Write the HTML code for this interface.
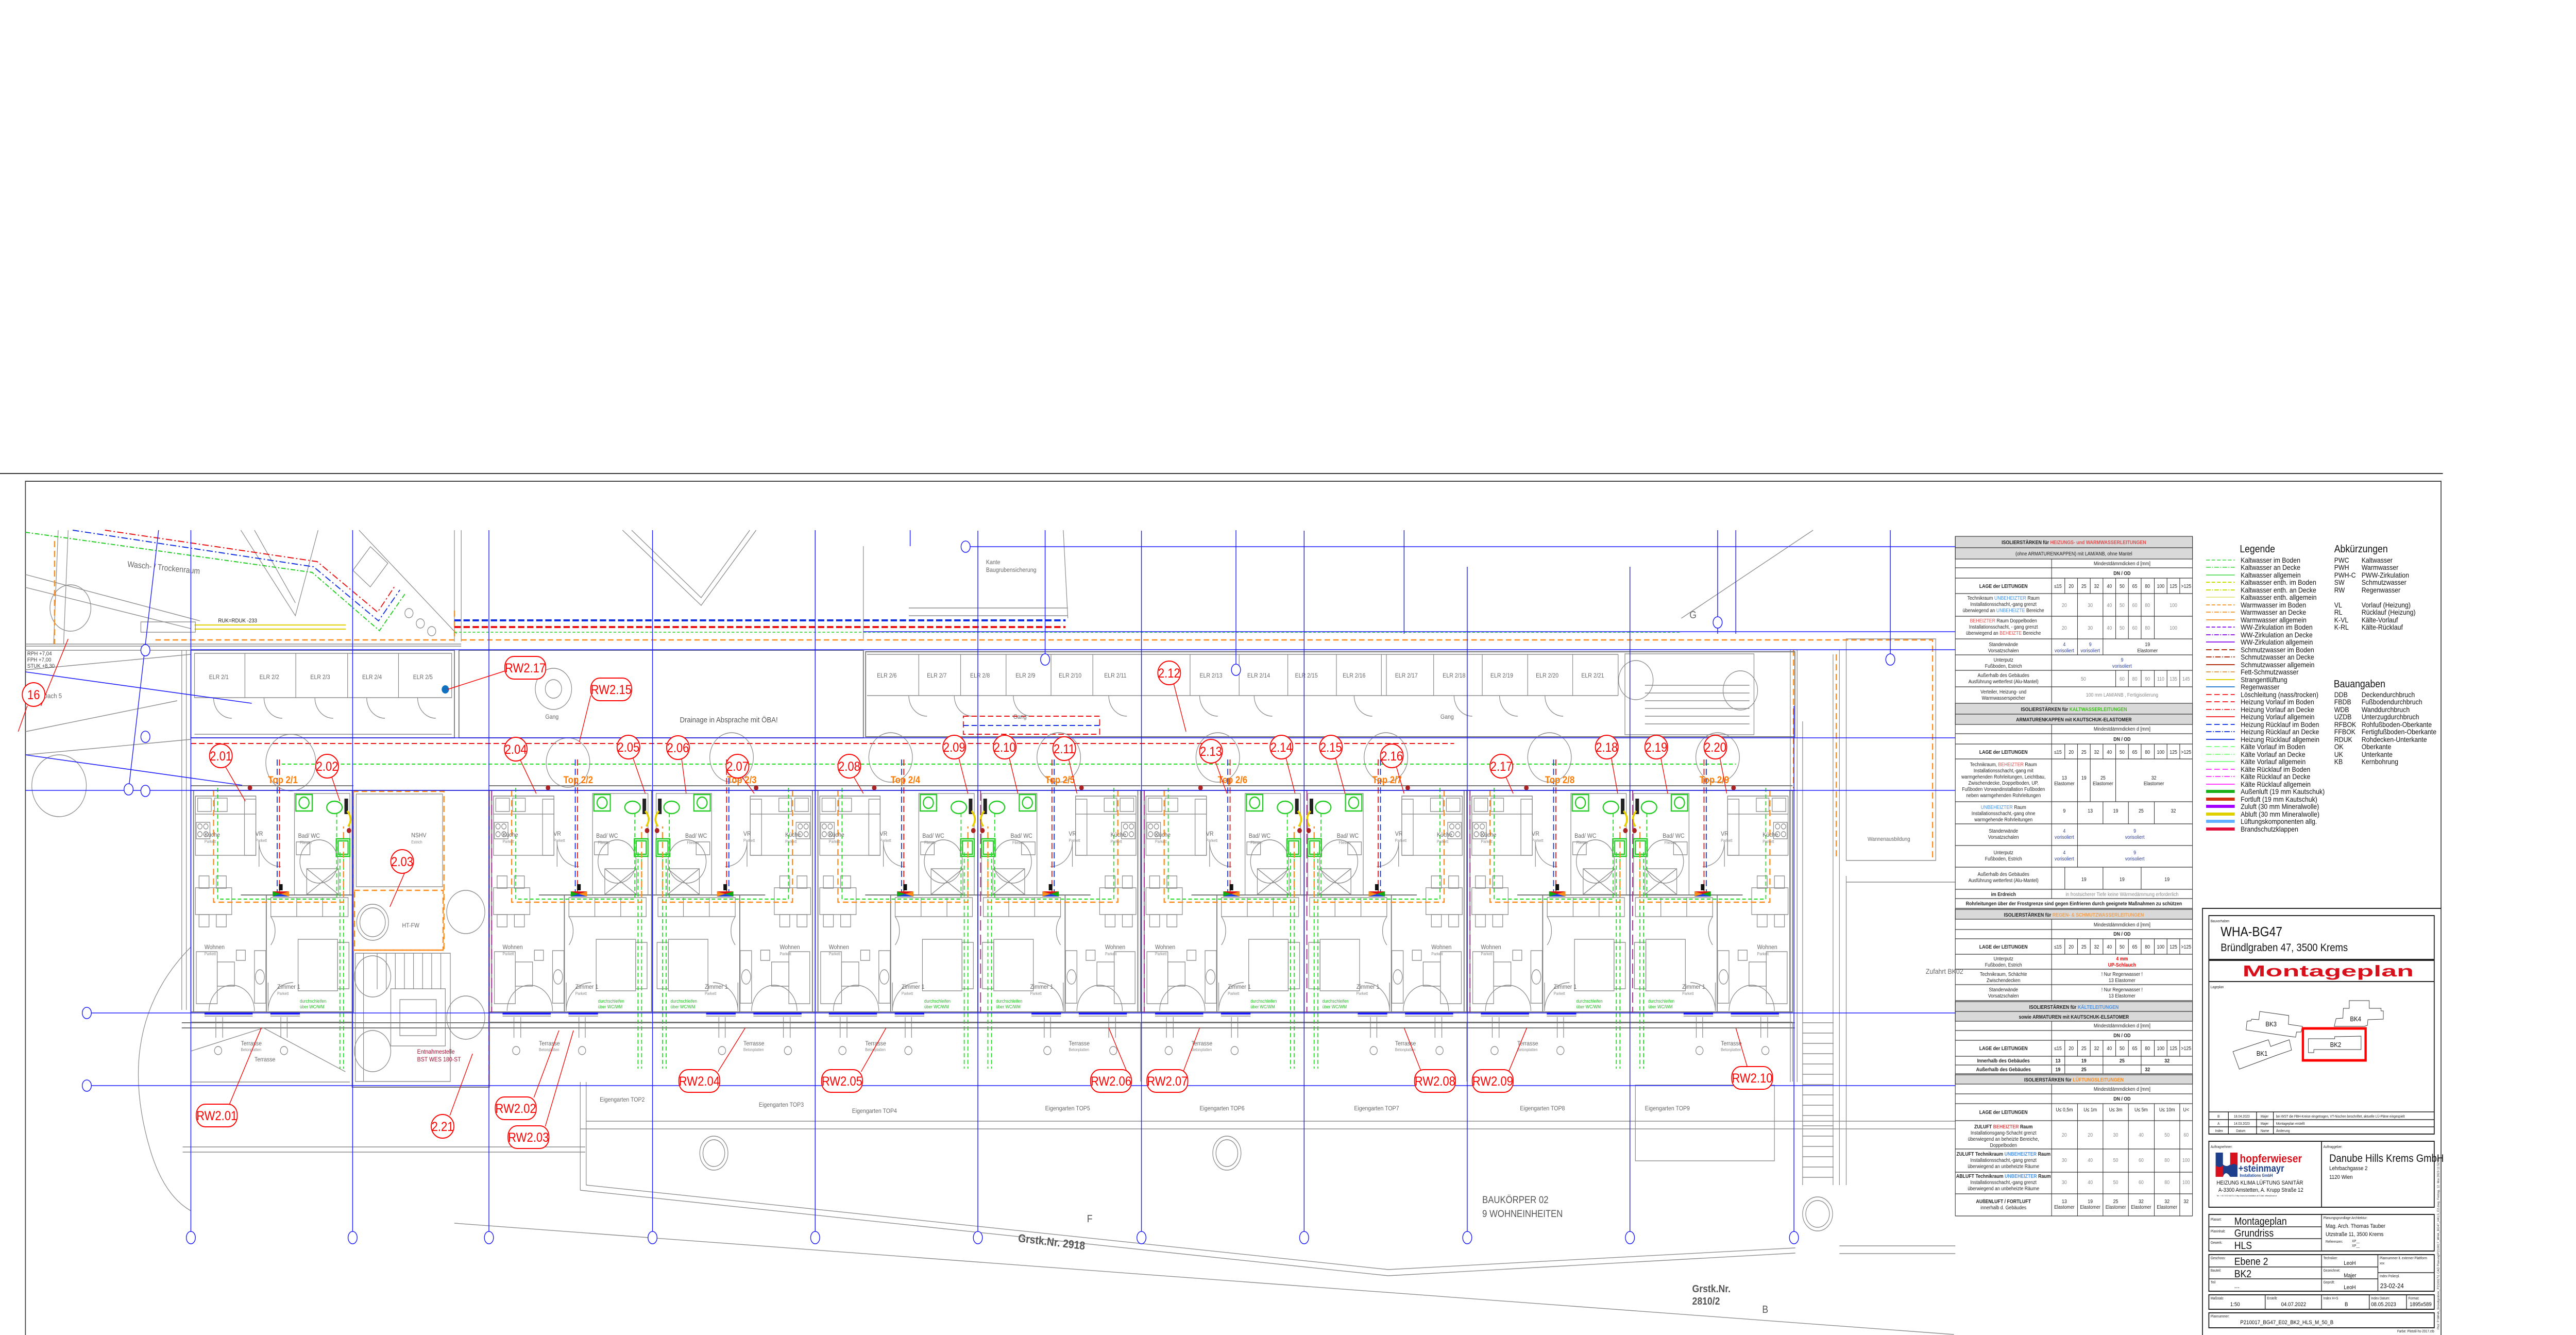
<!DOCTYPE html>
<html><head><meta charset="utf-8"><style>
html,body{margin:0;padding:0;background:#fff;width:100%;height:100%;overflow:hidden}
svg{display:block;width:100vw;height:100vh}
text{font-family:"Liberation Sans",Arial,sans-serif}
.g{stroke:#8c8c8c;stroke-width:1.4;fill:none}
.w{stroke:#777;stroke-width:2;fill:none}
.gd{stroke:#22dd22;stroke-dasharray:8 5;stroke-width:2;fill:none}
.od{stroke:#ff8c1a;stroke-dasharray:12 7;stroke-width:2.6;fill:none}
.rd{stroke:#e81010;stroke-dasharray:12 6;stroke-width:2;fill:none}
.bd{stroke:#1030e0;stroke-dasharray:12 6;stroke-width:2;fill:none}
.bl{stroke:#1a1aff;stroke-width:1.6;fill:none}
.gr{stroke:#22cc22;stroke-width:2.5;fill:none}
.rb{stroke:#f00;stroke-width:2;fill:#fff}
.rl{stroke:#f00;stroke-width:1.5;fill:none}
.rt{fill:#f00;font-size:25px;text-anchor:middle}
.ut{fill:#666;font-size:12px}
.us{fill:#888;font-size:8px}
.gt{fill:#22bb22;font-size:9px}
.tp{fill:#ff7a00;font-size:19px;font-weight:bold}
.tt{font-size:10px;fill:#222;text-anchor:middle}
.tb{font-size:10px;fill:#222;text-anchor:middle;font-weight:bold}
.tn{font-size:10px;fill:#888;text-anchor:middle}
.tv{font-size:10px;fill:#2d3d9a;text-anchor:middle}
.lg{font-size:14px;fill:#111}
.sm{font-size:7px;fill:#222}
</style></head><body>
<svg viewBox="0 0 5669 2591" preserveAspectRatio="none" xmlns="http://www.w3.org/2000/svg" overflow="hidden">
<defs>
<g id="uR">
<rect class="w" x="0" y="0" width="358" height="430"/>
<line class="w" x1="0" y1="-9" x2="358" y2="-9"/>
<line class="w" x1="6" y1="0" x2="6" y2="430"/>
<rect class="g" x="10" y="11" width="133" height="115"/>
<rect class="g" x="10" y="11" width="133" height="35"/>
<rect class="g" x="15" y="15" width="30" height="26"/>
<rect class="g" x="52" y="15" width="28" height="26"/>
<rect class="g" x="12" y="62" width="30" height="32"/>
<circle class="g" cx="20" cy="70" r="5"/><circle class="g" cx="33" cy="70" r="5"/><circle class="g" cx="20" cy="85" r="5"/><circle class="g" cx="33" cy="85" r="5"/>
<rect class="g" x="118" y="17" width="25" height="109"/>
<rect class="g" x="10" y="189" width="80" height="52"/>
<rect class="g" x="18" y="166" width="22" height="24"/><rect class="g" x="56" y="166" width="22" height="24"/>
<rect class="g" x="18" y="241" width="22" height="24"/><rect class="g" x="56" y="241" width="22" height="24"/>
<path class="g" d="M150 100 A48 48 0 0 0 198 148 M150 100 V148"/>
<rect class="g" x="228" y="6" width="122" height="197"/>
<rect class="gr" x="231" y="8" width="36" height="32"/><circle class="gr" cx="249" cy="24" r="11"/>
<ellipse class="gr" cx="316" cy="33" rx="17" ry="12"/><rect x="338" y="16" width="8" height="30" fill="#222"/>
<path d="M344 40 Q358 55 346 70" stroke="#e8d000" stroke-width="4" fill="none"/>
<circle cx="348" cy="78" r="5" fill="#a22"/>
<rect class="gr" x="320" y="94" width="30" height="34"/><rect class="gr" x="324" y="98" width="22" height="26"/>
<circle class="g" cx="282" cy="138" r="42"/>
<rect class="g" x="255" y="152" width="70" height="50"/><path class="g" d="M255 152 L325 202 M325 152 L255 202"/>
<rect class="g" x="232" y="100" width="30" height="25"/>
<line class="w" x1="110" y1="203" x2="358" y2="203"/>
<line class="w" x1="166" y1="203" x2="166" y2="430"/>
<rect class="g" x="176" y="208" width="170" height="37"/><path class="g" d="M233 208 V245 M290 208 V245"/>
<rect class="g" x="236" y="289" width="87" height="100"/><rect class="g" x="323" y="295" width="25" height="90"/>
<rect class="g" x="140" y="311" width="25" height="102"/><ellipse class="g" cx="152" cy="362" rx="10" ry="14"/>
<rect class="g" x="12" y="313" width="46" height="101"/><rect class="g" x="58" y="333" width="38" height="47"/>
<rect class="g" x="100" y="310" width="20" height="20"/>
<path class="g" d="M40 428 A50 50 0 0 1 90 378 M140 428 A50 50 0 0 0 90 378 M170 428 A55 55 0 0 1 225 373 M170 428 V373"/>
<path class="g" d="M176 245 A45 45 0 0 1 176 300"/>
<line class="w" x1="0" y1="450" x2="358" y2="450"/>
<line stroke="#1a1aff" stroke-width="4" x1="30" y1="433" x2="136" y2="433"/>
<line stroke="#1a1aff" stroke-width="4" x1="175" y1="433" x2="240" y2="433"/>
<path class="g" d="M30 438 H136 M175 438 H240"/>
<path class="gd" d="M59 -5 V211 H321 V40"/>
<path class="gd" d="M328 120 V540 M336 120 V540"/>
<path class="od" d="M50 0 V217 H336 V70"/>
<path class="rd" d="M195 -60 V196"/><path class="bd" d="M190 -60 V196"/>
<rect x="180" y="196" width="36" height="10" fill="#11aa11"/><polygon points="180,196 216,196 198,201" fill="#e01010"/><polygon points="216,196 216,206 198,201" fill="#ff8c1a"/><polygon points="180,206 216,206 198,201" fill="#2040e0"/>
<rect x="194" y="182" width="8" height="12" fill="#111"/>
<circle cx="130" cy="-5" r="5" fill="#a22"/>
<line class="g" x1="0" y1="450" x2="0" y2="565"/>
<circle class="g" cx="60" cy="505" r="8"/><circle class="g" cx="205" cy="505" r="8"/>
<path class="g" d="M55 440 V480 M70 440 V480 M198 440 V480 M212 440 V480"/>
</g>
<g id="tR">
<text class="ut" x="30" y="90">Küche</text><text class="us" x="30" y="102">Parkett</text>
<text class="ut" x="236" y="92">Bad/ WC</text><text class="us" x="240" y="104">Fliesen</text>
<text class="ut" x="142" y="88">VR</text><text class="us" x="142" y="100">Parkett</text>
<text class="ut" x="30" y="308">Wohnen</text><text class="us" x="30" y="320">Parkett</text>
<text class="ut" x="190" y="385">Zimmer 1</text><text class="us" x="190" y="397">Parkett</text>
<text class="gt" x="240" y="412">durchschleifen</text><text class="gt" x="240" y="423">über WC/WM</text>
<text class="ut" x="110" y="495">Terrasse</text><text class="us" x="110" y="506">Betonplatten</text>
</g>
<g id="tL">
<text class="ut" x="292" y="90">Küche</text><text class="us" x="292" y="102">Parkett</text>
<text class="ut" x="72" y="92">Bad/ WC</text><text class="us" x="76" y="104">Fliesen</text>
<text class="ut" x="200" y="88">VR</text><text class="us" x="200" y="100">Parkett</text>
<text class="ut" x="280" y="308">Wohnen</text><text class="us" x="280" y="320">Parkett</text>
<text class="ut" x="115" y="385">Zimmer 1</text><text class="us" x="115" y="397">Parkett</text>
<text class="gt" x="40" y="412">durchschleifen</text><text class="gt" x="40" y="423">über WC/WM</text>
<text class="ut" x="200" y="495">Terrasse</text><text class="us" x="200" y="506">Betonplatten</text>
</g>
</defs>

<line x1="0" y1="919" x2="5376" y2="919" stroke="#333" stroke-width="2"/>
<path d="M56 2591 V934 H5372 V2591" stroke="#444" stroke-width="2" fill="none"/>

<path class="g" d="M56 1115 L440 1205 M56 1140 L420 1220 M56 1250 H1015 M56 1254 H1015 M56 1262 H420"/>
<path class="g" d="M150 1029 L140 1250 M128 1029 L118 1250"/>
<circle class="g" cx="155" cy="1180" r="45"/>
<path class="g" d="M56 1300 L420 1270 M56 1465 L420 1435 M56 1420 L390 1360"/>
<circle class="g" cx="130" cy="1525" r="60"/>
<path class="g" d="M400 1262 V1960 M410 1262 V1960"/>
<path class="g" d="M1000 1029 V1245 M1015 1029 V1245 M790 1029 L1005 1230"/>
<path class="g" d="M530 1029 L650 1195 L700 1029 M560 1029 L650 1170"/>
<rect class="g" x="790" y="1070" width="50" height="60" transform="rotate(40 815 1100)"/>
<circle class="g" cx="900" cy="1190" r="9"/><circle class="g" cx="925" cy="1210" r="9"/><circle class="g" cx="950" cy="1225" r="9"/>
<path d="M428 1213 H761 M428 1221 H761" stroke="#e0d000" stroke-width="2"/>
<rect class="g" x="310" y="1207" width="120" height="20"/>
<text x="480" y="1208" font-size="11" fill="#222">RUK=RDUK -233</text>
<text x="280" y="1100" font-size="16" fill="#666" transform="rotate(5 280 1100)">Wasch- / Trockenraum</text>
<text x="95" y="1355" font-size="13" fill="#666">Dach 5</text>
<text x="60" y="1272" font-size="11" fill="#444">RPH +7,04</text><text x="60" y="1284" font-size="11" fill="#444">FPH +7,00</text><text x="60" y="1296" font-size="11" fill="#444">STUK +8,30</text>
<polyline points="231,1029 698,1090 831,1188 870,1136" stroke="#e81010" stroke-width="2" stroke-dasharray="14 5 3 5" fill="none"/>
<polyline points="160,1029 690,1100 833,1205 880,1145" stroke="#1030e0" stroke-width="2" stroke-dasharray="14 5 3 5" fill="none"/>
<polyline points="56,1033 687,1111 835,1224 891,1153" stroke="#22cc22" stroke-width="2" stroke-dasharray="10 4 3 4" fill="none"/>
<path class="od" d="M120 1050 V1250 M342 1242 H1000 V1180"/>
<path d="M1000 1204 H2345" stroke="#1030e0" stroke-width="4" stroke-dasharray="14 6"/>
<path d="M1000 1217 H2345" stroke="#e81010" stroke-width="4" stroke-dasharray="14 6"/>
<path d="M1000 1227 H3700" stroke="#22cc22" stroke-width="1.5" stroke-dasharray="6 4"/>
<path class="od" d="M1015 1242 H4253 V1668 M3947 1261 V1530 M4041 1270 V1668"/>
<path class="g" d="M1370 1029 L1543 1175 L1664 1029 M1390 1029 L1543 1160 L1650 1029"/>
<path class="g" d="M1900 1060 V1240 M2000 1180 H2350 M2000 1195 H2350 M2340 1029 L2350 1200"/>
<text x="2170" y="1095" font-size="12" fill="#666">Kante</text><text x="2170" y="1110" font-size="12" fill="#666">Baugrubensicherung</text>
<text x="3718" y="1200" font-size="20" fill="#666">G</text>
<path class="g" d="M3700 1200 L3990 1029 M4063 1240 H4260 V1670 H4063 Z M4063 1712 H4303 M3940 1261 V2100 M3955 1261 V2100 M3967 1400 V2300 M4034 1270 V2300 M4048 1261 V2300 M4063 1700 V2300"/>
<text x="4110" y="1632" font-size="11" fill="#666">Wannenausbildung</text>
<text x="4238" y="1890" font-size="14" fill="#666">Zufahrt BK02</text>
<path class="g" d="M3967 1985 H4035 M3967 2005 H4035 M3967 2025 H4035 M3967 2045 H4035 M3967 2065 H4035 M3967 2085 H4035 M3967 2105 H4035 M3967 2125 H4035 M3967 2145 H4035 M3967 2165 H4035 M3967 2185 H4035 M3967 2205 H4035 M3967 2225 H4035 M3967 2245 H4035 M3967 2265 H4035 M3967 2285 H4035"/>
<circle class="g" cx="4000" cy="2356" r="33"/><circle class="g" cx="4000" cy="2356" r="26"/>
<path class="g" d="M4048 2418 H4303 M4048 2433 H4303"/>

<rect class="w" x="420" y="1262" width="580" height="170"/>
<path class="g" d="M428 1268 H994 V1354 H428 Z M539 1268 V1354 M651 1268 V1354 M765 1268 V1354 M877 1268 V1354 M428 1425 H994"/>
<text class="ut" x="460" y="1318">ELR 2/1</text><text class="ut" x="571" y="1318">ELR 2/2</text><text class="ut" x="683" y="1318">ELR 2/3</text><text class="ut" x="797" y="1318">ELR 2/4</text><text class="ut" x="909" y="1318">ELR 2/5</text>
<path class="g" d="M470 1354 A40 40 0 0 0 510 1394 M581 1354 A40 40 0 0 0 621 1394 M693 1354 A40 40 0 0 0 733 1394 M807 1354 A40 40 0 0 0 847 1394 M919 1354 A40 40 0 0 0 959 1394"/>
<rect class="w" x="1010" y="1262" width="890" height="170"/>
<circle class="g" cx="1218" cy="1337" r="40"/><circle class="g" cx="1218" cy="1337" r="18"/>
<text x="1496" y="1402" font-size="15" fill="#555">Drainage in Absprache mit ÖBA!</text>
<rect class="w" x="1905" y="1265" width="2045" height="165"/>
<path class="g" d="M1908 1270 H3561 M1908 1350 H3561 M2022 1270 V1350 M2114 1270 V1350 M2214 1270 V1350 M2313 1270 V1350 M2405 1270 V1350 M2512 1270 V1350 M2619 1270 V1350 M2727 1270 V1350 M2834 1270 V1350 M2941 1270 V1350 M3040 1270 V1350 M3051 1270 V1350 M3155 1270 V1350 M3262 1270 V1350 M3362 1270 V1350 M3461 1270 V1350 M3561 1270 V1350"/>
<text class="ut" x="1930" y="1315">ELR 2/6</text><text class="ut" x="2040" y="1315">ELR 2/7</text><text class="ut" x="2135" y="1315">ELR 2/8</text><text class="ut" x="2235" y="1315">ELR 2/9</text><text class="ut" x="2330" y="1315">ELR 2/10</text><text class="ut" x="2430" y="1315">ELR 2/11</text><text class="ut" x="2640" y="1315">ELR 2/13</text><text class="ut" x="2745" y="1315">ELR 2/14</text><text class="ut" x="2850" y="1315">ELR 2/15</text><text class="ut" x="2955" y="1315">ELR 2/16</text><text class="ut" x="3070" y="1315">ELR 2/17</text><text class="ut" x="3175" y="1315">ELR 2/18</text><text class="ut" x="3280" y="1315">ELR 2/19</text><text class="ut" x="3380" y="1315">ELR 2/20</text><text class="ut" x="3480" y="1315">ELR 2/21</text>
<path class="g" d="M2000 1350 A40 40 0 0 0 2040 1390 M2100 1350 A40 40 0 0 0 2140 1390 M2230 1350 A40 40 0 0 0 2270 1390 M2440 1350 A40 40 0 0 0 2480 1390 M2640 1350 A40 40 0 0 0 2680 1390 M2760 1350 A40 40 0 0 0 2800 1390 M2980 1350 A40 40 0 0 0 3020 1390 M3200 1350 A40 40 0 0 0 3240 1390 M3300 1350 A40 40 0 0 0 3340 1390 M3400 1350 A40 40 0 0 0 3440 1390"/>
<rect class="g" x="3576" y="1269" width="284" height="157"/>
<path class="g" d="M3620 1330 H3850 M3620 1345 H3850 M3620 1360 H3850 M3620 1375 H3850 M3620 1390 H3850 M3620 1405 H3850"/>
<circle class="g" cx="3600" cy="1320" r="38"/><circle class="g" cx="3830" cy="1340" r="38"/>
<rect class="rd" x="2120" y="1390" width="300" height="35"/>
<path class="bd" d="M2120 1408 H2420"/>
<text class="ut" x="1200" y="1395">Gang</text><text class="ut" x="2230" y="1395">Gang</text><text class="ut" x="3170" y="1395">Gang</text>

<path class="rd" d="M420 1443 H3200"/>
<path class="gd" d="M620 1483 H3820"/>
<path d="M420 1534 H3950" stroke="#e81010" stroke-width="2" stroke-dasharray="30 20" fill="none"/>

<circle class="g" cx="640" cy="1480" r="55"/><circle class="g" cx="1250" cy="1480" r="48"/><circle class="g" cx="1610" cy="1470" r="48"/><circle class="g" cx="1960" cy="1470" r="48"/><circle class="g" cx="2330" cy="1470" r="48"/><circle class="g" cx="2680" cy="1470" r="48"/><circle class="g" cx="3050" cy="1470" r="48"/><circle class="g" cx="3410" cy="1470" r="48"/><circle class="g" cx="3780" cy="1470" r="48"/>

<use href="#uR" transform="translate(420,1534)"/>
<use href="#uR" transform="translate(1076,1534)"/>
<use href="#uR" transform="translate(1794,1534)"/>
<use href="#uR" transform="translate(2512,1534)"/>
<use href="#uR" transform="translate(3229,1534)"/>
<use href="#uR" transform="translate(1794,1534) scale(-1,1)"/>
<use href="#uR" transform="translate(2510,1534) scale(-1,1)"/>
<use href="#uR" transform="translate(3228,1534) scale(-1,1)"/>
<use href="#uR" transform="translate(3945,1534) scale(-1,1)"/>
<use href="#tR" transform="translate(420,1534)"/>
<use href="#tR" transform="translate(1076,1534)"/>
<use href="#tL" transform="translate(1436,1534)"/>
<use href="#tR" transform="translate(1794,1534)"/>
<use href="#tL" transform="translate(2152,1534)"/>
<use href="#tR" transform="translate(2512,1534)"/>
<use href="#tL" transform="translate(2870,1534)"/>
<use href="#tR" transform="translate(3229,1534)"/>
<use href="#tL" transform="translate(3587,1534)"/>
<text class="tp" x="590" y="1520">Top 2/1</text><text class="tp" x="1240" y="1520">Top 2/2</text><text class="tp" x="1600" y="1520">Top 2/3</text><text class="tp" x="1960" y="1520">Top 2/4</text><text class="tp" x="2300" y="1520">Top 2/5</text><text class="tp" x="2680" y="1520">Top 2/6</text><text class="tp" x="3020" y="1520">Top 2/7</text><text class="tp" x="3400" y="1520">Top 2/8</text><text class="tp" x="3740" y="1520">Top 2/9</text>
<path stroke="#a0208a" stroke-width="2" stroke-dasharray="20 8" d="M1082 1534 V1965 M2158 1534 V1965 M2518 1534 V1965 M2876 1534 V1965 M3235 1534 V1965 M3593 1534 V1965"/>

<rect class="w" x="775" y="1534" width="302" height="576"/>
<rect class="g" x="784" y="1541" width="190" height="180"/>
<text class="ut" x="905" y="1625">NSHV</text><text class="us" x="905" y="1637">Estrich</text>
<rect class="od" x="777" y="1536" width="200" height="308"/>
<rect class="od" x="780" y="1728" width="195" height="116"/>
<circle class="g" cx="820" cy="1790" r="35"/><circle class="g" cx="820" cy="1790" r="28"/>
<text class="ut" x="885" y="1800">HT-FW</text>
<path class="g" d="M782 1850 H991 V2099 H782 Z M800 1850 V2099 M830 1850 V1920 M850 1850 V1920 M870 1850 V1920 M890 1850 V1920 M910 1850 V1920 M930 1850 V1920 M950 1850 V1920 M970 1850 V1920"/>
<rect class="g" x="860" y="1919" width="120" height="111"/><rect class="g" x="880" y="1940" width="80" height="70"/>
<circle class="g" cx="820" cy="1895" r="40"/><circle class="g" cx="1025" cy="1770" r="42"/><circle class="g" cx="1025" cy="1975" r="42"/><circle class="g" cx="820" cy="2040" r="40"/>
<text x="918" y="2045" font-size="12" fill="#a01030">Entnahmestelle</text><text x="918" y="2060" font-size="12" fill="#a01030">BST WES 180-ST</text>
<path class="od" d="M1076 1534 V2110"/>

<path class="w" d="M400 1985 H3950 M400 1995 H3950"/>
<path class="g" d="M420 2040 L580 1995 L760 2080 M420 2100 H770"/>
<text class="ut" x="560" y="2060">Terrasse</text>
<path class="g" d="M402 2226 H1288 M402 2236 H1288 M1290 2176 H4303 M1277 2191 H4303 M1290 2100 V2300 M1277 2100 V2310"/>
<path class="g" d="M1290 2300 L3055 2464 L3951 2422 M1277 2310 L3055 2476 L3951 2432 M1000 2374 L4300 2590"/>
<path class="g" d="M420 1838 Q250 1990 330 2230 Q360 2320 420 2350"/>
<rect class="g" x="3599" y="2106" width="306" height="147"/>
<ellipse class="g" cx="1571" cy="2238" rx="31" ry="33"/><ellipse class="g" cx="1571" cy="2238" rx="24" ry="26"/>
<ellipse class="g" cx="2700" cy="2238" rx="31" ry="33"/><ellipse class="g" cx="2700" cy="2238" rx="24" ry="26"/>
<text class="ut" x="1320" y="2138">Eigengarten TOP2</text><text class="ut" x="1670" y="2148">Eigengarten TOP3</text><text class="ut" x="1875" y="2160">Eigengarten TOP4</text><text class="ut" x="2300" y="2155">Eigengarten TOP5</text><text class="ut" x="2640" y="2155">Eigengarten TOP6</text><text class="ut" x="2980" y="2155">Eigengarten TOP7</text><text class="ut" x="3345" y="2155">Eigengarten TOP8</text><text class="ut" x="3620" y="2155">Eigengarten TOP9</text>
<text x="3262" y="2335" font-size="19" fill="#555">BAUKÖRPER 02</text><text x="3262" y="2362" font-size="19" fill="#555">9 WOHNEINHEITEN</text>
<text x="2240" y="2410" font-size="22" fill="#555" font-weight="bold" transform="rotate(6 2240 2410)">Grstk.Nr. 2918</text>
<text x="2392" y="2372" font-size="20" fill="#555">F</text>
<text x="3724" y="2508" font-size="20" fill="#555" font-weight="bold">Grstk.Nr.</text><text x="3724" y="2532" font-size="20" fill="#555" font-weight="bold">2810/2</text>
<text x="3878" y="2548" font-size="20" fill="#555">B</text>

<g class="bl">
<path d="M2125 1061 H4303 M420 1261 H4303 M1900 1226 H4303 M420 1432 H4303 M56 1534 H4303 M191 1966 H4303 M191 2107 H4303"/>
<path d="M56 1304 L554 1365 M56 1465 L533 1524 M349 1029 L283 1532"/>
<path d="M420 1029 V2390 M776 1029 V2390 M1076 1029 V2390 M1436 1029 V2390 M1794 1029 V2390 M2152 1030 V2390 M2512 1030 V2390 M2870 1030 V2390 M3229 1100 V2390 M3587 1100 V2390 M3948 1370 V2390 M2003 1029 V1060 M2300 1029 V1280 M2720 1029 V1300 M3090 1029 V1230 M3780 1029 V1230 M3820 1029 V1230 M4160 1029 V1280"/>
<g fill="#fff"><ellipse cx="420" cy="2402" rx="10" ry="12"/><ellipse cx="776" cy="2402" rx="10" ry="12"/><ellipse cx="1076" cy="2402" rx="10" ry="12"/><ellipse cx="1436" cy="2402" rx="10" ry="12"/><ellipse cx="1794" cy="2402" rx="10" ry="12"/><ellipse cx="2152" cy="2402" rx="10" ry="12"/><ellipse cx="2512" cy="2402" rx="10" ry="12"/><ellipse cx="2870" cy="2402" rx="10" ry="12"/><ellipse cx="3229" cy="2402" rx="10" ry="12"/><ellipse cx="3587" cy="2402" rx="10" ry="12"/><ellipse cx="3948" cy="2402" rx="10" ry="12"/><ellipse cx="191" cy="1966" rx="10" ry="11"/><ellipse cx="191" cy="2107" rx="10" ry="11"/><ellipse cx="2125" cy="1061" rx="10" ry="11"/><ellipse cx="283" cy="1532" rx="10" ry="11"/><ellipse cx="320" cy="1535" rx="10" ry="11"/><ellipse cx="320" cy="1262" rx="10" ry="11"/><ellipse cx="320" cy="1430" rx="10" ry="11"/><ellipse cx="2300" cy="1280" rx="10" ry="11"/><ellipse cx="2720" cy="1300" rx="10" ry="11"/><ellipse cx="3780" cy="1208" rx="10" ry="11"/><ellipse cx="4160" cy="1280" rx="10" ry="11"/></g>
</g>
<circle cx="980" cy="1338" r="8" fill="#1070c0"/>

<g>
<path class="rl" d="M1112 1302 L985 1338 M1300 1350 L1275 1440 M496 1488 L540 1555 M730 1508 L748 1555 M890 1695 L858 1760 M1145 1475 L1180 1540 M1393 1471 L1420 1540 M1500 1472 L1510 1540 M1633 1508 L1660 1540 M1879 1508 L1900 1540 M2110 1471 L2130 1540 M2221 1471 L2240 1540 M2352 1474 L2370 1540 M2583 1327 L2610 1420 M2675 1479 L2700 1540 M2830 1471 L2850 1540 M2939 1471 L2960 1540 M3073 1488 L3090 1540 M3314 1508 L3330 1540 M3546 1471 L3560 1540 M3655 1471 L3670 1540 M3785 1471 L3800 1540 M505 2143 L575 1995 M1175 2130 L1230 2000 M1200 2186 L1262 2000 M990 2165 L1040 2045 M1580 2080 L1640 1995 M1895 2080 L1950 1995 M2480 2080 L2440 1995 M2604 2080 L2640 1995 M3130 2085 L3090 1995 M3320 2080 L3360 1995 M3845 2070 L3820 1995 M90 1370 L150 1240 M60 1370 L40 1420"/>
<rect class="rb" x="1111" y="1274" width="90" height="44" rx="20"/><text class="rt" x="1156" y="1305">RW2.17</text>
<rect class="rb" x="1300" y="1316" width="90" height="44" rx="20"/><text class="rt" x="1345" y="1347">RW2.15</text>
<rect class="rb" x="432" y="2143" width="90" height="44" rx="20"/><text class="rt" x="477" y="2174">RW2.01</text>
<rect class="rb" x="1090" y="2129" width="90" height="44" rx="20"/><text class="rt" x="1135" y="2160">RW2.02</text>
<rect class="rb" x="1118" y="2185" width="90" height="44" rx="20"/><text class="rt" x="1163" y="2216">RW2.03</text>
<rect class="rb" x="1494" y="2076" width="90" height="44" rx="20"/><text class="rt" x="1539" y="2107">RW2.04</text>
<rect class="rb" x="1808" y="2076" width="90" height="44" rx="20"/><text class="rt" x="1853" y="2107">RW2.05</text>
<rect class="rb" x="2400" y="2076" width="90" height="44" rx="20"/><text class="rt" x="2445" y="2107">RW2.06</text>
<rect class="rb" x="2524" y="2076" width="90" height="44" rx="20"/><text class="rt" x="2569" y="2107">RW2.07</text>
<rect class="rb" x="3113" y="2076" width="90" height="44" rx="20"/><text class="rt" x="3158" y="2107">RW2.08</text>
<rect class="rb" x="3240" y="2076" width="90" height="44" rx="20"/><text class="rt" x="3285" y="2107">RW2.09</text>
<rect class="rb" x="3811" y="2070" width="90" height="44" rx="20"/><text class="rt" x="3856" y="2101">RW2.10</text>
<g class="rb"><ellipse cx="486" cy="1467" rx="25" ry="23"/><ellipse cx="720" cy="1487" rx="25" ry="23"/><ellipse cx="885" cy="1672" rx="25" ry="23"/><ellipse cx="1135" cy="1454" rx="25" ry="23"/><ellipse cx="1383" cy="1450" rx="25" ry="23"/><ellipse cx="1492" cy="1451" rx="25" ry="23"/><ellipse cx="1623" cy="1487" rx="25" ry="23"/><ellipse cx="1869" cy="1487" rx="25" ry="23"/><ellipse cx="2100" cy="1450" rx="25" ry="23"/><ellipse cx="2211" cy="1450" rx="25" ry="23"/><ellipse cx="2342" cy="1453" rx="25" ry="23"/><ellipse cx="2573" cy="1306" rx="25" ry="23"/><ellipse cx="2665" cy="1458" rx="25" ry="23"/><ellipse cx="2820" cy="1450" rx="25" ry="23"/><ellipse cx="2929" cy="1450" rx="25" ry="23"/><ellipse cx="3063" cy="1467" rx="25" ry="23"/><ellipse cx="3304" cy="1487" rx="25" ry="23"/><ellipse cx="3536" cy="1450" rx="25" ry="23"/><ellipse cx="3645" cy="1450" rx="25" ry="23"/><ellipse cx="3775" cy="1450" rx="25" ry="23"/><ellipse cx="974" cy="2186" rx="25" ry="23"/><ellipse cx="74" cy="1348" rx="25" ry="23"/></g>
<text class="rt" x="486" y="1476">2.01</text><text class="rt" x="720" y="1496">2.02</text><text class="rt" x="885" y="1681">2.03</text><text class="rt" x="1135" y="1463">2.04</text><text class="rt" x="1383" y="1459">2.05</text><text class="rt" x="1492" y="1460">2.06</text><text class="rt" x="1623" y="1496">2.07</text><text class="rt" x="1869" y="1496">2.08</text><text class="rt" x="2100" y="1459">2.09</text><text class="rt" x="2211" y="1459">2.10</text><text class="rt" x="2342" y="1462">2.11</text><text class="rt" x="2573" y="1315">2.12</text><text class="rt" x="2665" y="1467">2.13</text><text class="rt" x="2820" y="1459">2.14</text><text class="rt" x="2929" y="1459">2.15</text><text class="rt" x="3063" y="1476">2.16</text><text class="rt" x="3304" y="1496">2.17</text><text class="rt" x="3536" y="1459">2.18</text><text class="rt" x="3645" y="1459">2.19</text><text class="rt" x="3775" y="1459">2.20</text><text class="rt" x="974" y="2195">2.21</text><text class="rt" x="74" y="1357">16</text>
</g>

<g stroke="#333" stroke-width="1.2" fill="none">
<rect x="4303" y="1041" width="522" height="44" fill="#d9d9d9"/><line x1="4303" y1="1063" x2="4825" y2="1063"/>
<rect x="4303" y="1365" width="522" height="41" fill="#d9d9d9"/><line x1="4303" y1="1386" x2="4825" y2="1386"/>
<rect x="4303" y="1765" width="522" height="19" fill="#d9d9d9"/>
<rect x="4303" y="1944" width="522" height="38" fill="#d9d9d9"/><line x1="4303" y1="1963" x2="4825" y2="1963"/>
<rect x="4303" y="2086" width="522" height="18" fill="#d9d9d9"/>
<path d="M4303 1102 H4825 M4303 1122 H4825 M4303 1152 H4825 M4303 1196 H4825 M4303 1240 H4825 M4303 1271 H4825 M4303 1301 H4825 M4303 1333 H4825
M4303 1424 H4825 M4303 1444 H4825 M4303 1473 H4825 M4303 1556 H4825 M4303 1599 H4825 M4303 1641 H4825 M4303 1683 H4825 M4303 1726 H4825 M4303 1744 H4825 M4303 1763 H4825
M4303 1804 H4825 M4303 1822 H4825 M4303 1852 H4825 M4303 1881 H4825 M4303 1911 H4825 M4303 1942 H4825
M4303 2000 H4825 M4303 2019 H4825 M4303 2050 H4825 M4303 2067 H4825 M4303 2084 H4825
M4303 2123 H4825 M4303 2142 H4825 M4303 2175 H4825 M4303 2230 H4825 M4303 2275 H4825 M4303 2317 H4825 M4303 2360 H4825
M4825 1041 V2360 M4303 1041 V2360
M4515 1085 V1365 M4515 1406 V1744 M4515 1784 V1942 M4515 1982 V2084 M4515 2104 V2360"/>
<path d="M4544 1122 V1152 M4572 1122 V1240 M4600 1122 V1152 M4628 1122 V1240 M4656 1122 V1240 M4684 1122 V1240 M4712 1122 V1240 M4741 1122 V1240 M4769 1122 V1152 M4797 1122 V1152
M4572 1240 V1271 M4628 1240 V1271 M4656 1301 V1333 M4684 1301 V1333 M4712 1301 V1333 M4741 1301 V1333 M4769 1301 V1333 M4797 1301 V1333
M4544 1444 V1473 M4572 1444 V1473 M4600 1444 V1473 M4628 1444 V1473 M4656 1444 V1473 M4684 1444 V1473 M4712 1444 V1473 M4741 1444 V1473 M4769 1444 V1473 M4797 1444 V1473
M4572 1473 V1556 M4600 1473 V1556 M4656 1473 V1556 M4572 1556 V1599 M4628 1556 V1599 M4684 1556 V1599 M4741 1556 V1599 M4572 1599 V1683 M4544 1683 V1726 M4628 1683 V1726 M4712 1683 V1726
M4544 1822 V1852 M4572 1822 V1852 M4600 1822 V1852 M4628 1822 V1852 M4656 1822 V1852 M4684 1822 V1852 M4712 1822 V1852 M4741 1822 V1852 M4769 1822 V1852 M4797 1822 V1852
M4544 2019 V2084 M4572 2019 V2050 M4600 2019 V2050 M4628 2019 V2084 M4656 2019 V2050 M4684 2019 V2050 M4712 2019 V2084 M4741 2019 V2050 M4769 2019 V2050 M4797 2019 V2050
M4572 2142 V2360 M4628 2142 V2360 M4684 2142 V2360 M4741 2142 V2360 M4797 2142 V2360"/>
</g>
<g>
<text class="tb" x="4564" y="1056">ISOLIERSTÄRKEN für <tspan fill="#e05050">HEIZUNGS- und WARMWASSERLEITUNGEN</tspan></text>
<text class="tt" x="4564" y="1078">(ohne ARMATURENKAPPEN) mit LAM/ANB, ohne Mantel</text>
<text class="tt" x="4670" y="1097">Mindestdämmdicken d [mm]</text>
<text class="tb" x="4670" y="1116">DN / OD</text>
<text class="tb" x="4409" y="1141">LAGE der LEITUNGEN</text>
<text class="tt" x="4529" y="1141">≤15</text><text class="tt" x="4558" y="1141">20</text><text class="tt" x="4586" y="1141">25</text><text class="tt" x="4614" y="1141">32</text><text class="tt" x="4642" y="1141">40</text><text class="tt" x="4670" y="1141">50</text><text class="tt" x="4698" y="1141">65</text><text class="tt" x="4726" y="1141">80</text><text class="tt" x="4755" y="1141">100</text><text class="tt" x="4783" y="1141">125</text><text class="tt" x="4811" y="1141">&gt;125</text>
<text class="tt" x="4409" y="1164">Technikraum <tspan fill="#4a90e2">UNBEHEIZTER</tspan> Raum</text><text class="tt" x="4409" y="1176">Installationsschacht,-gang grenzt</text><text class="tt" x="4409" y="1188">überwiegend an <tspan fill="#4a90e2">UNBEHEIZTE</tspan> Bereiche</text>
<text class="tn" x="4543" y="1178">20</text><text class="tn" x="4600" y="1178">30</text><text class="tn" x="4642" y="1178">40</text><text class="tn" x="4670" y="1178">50</text><text class="tn" x="4698" y="1178">60</text><text class="tn" x="4726" y="1178">80</text><text class="tn" x="4783" y="1178">100</text>
<text class="tt" x="4409" y="1208"><tspan fill="#e05050">BEHEIZTER</tspan> Raum Doppelboden</text><text class="tt" x="4409" y="1220">Installationsschacht, - gang grenzt</text><text class="tt" x="4409" y="1232">überwiegend an <tspan fill="#e05050">BEHEIZTE</tspan> Bereiche</text>
<text class="tn" x="4543" y="1222">20</text><text class="tn" x="4600" y="1222">30</text><text class="tn" x="4642" y="1222">40</text><text class="tn" x="4670" y="1222">50</text><text class="tn" x="4698" y="1222">60</text><text class="tn" x="4726" y="1222">80</text><text class="tn" x="4783" y="1222">100</text>
<text class="tt" x="4409" y="1254">Standerwände</text><text class="tt" x="4409" y="1266">Vorsatzschalen</text>
<text class="tv" x="4543" y="1254">4</text><text class="tv" x="4543" y="1266">vorisoliert</text><text class="tv" x="4600" y="1254">9</text><text class="tv" x="4600" y="1266">vorisoliert</text><text class="tt" x="4726" y="1254">19</text><text class="tt" x="4726" y="1266">Elastomer</text>
<text class="tt" x="4409" y="1284">Unterputz</text><text class="tt" x="4409" y="1296">Fußboden, Estrich</text><text class="tv" x="4670" y="1284">9</text><text class="tv" x="4670" y="1296">vorisoliert</text>
<text class="tt" x="4409" y="1314">Außerhalb des Gebäudes</text><text class="tt" x="4409" y="1326">Ausführung wetterfest (Alu-Mantel)</text>
<text class="tn" x="4585" y="1321">50</text><text class="tn" x="4670" y="1321">60</text><text class="tn" x="4698" y="1321">80</text><text class="tn" x="4726" y="1321">90</text><text class="tn" x="4755" y="1321">110</text><text class="tn" x="4783" y="1321">135</text><text class="tn" x="4811" y="1321">145</text>
<text class="tt" x="4409" y="1346">Verteiler, Heizung- und</text><text class="tt" x="4409" y="1358">Warmwasserspeicher</text><text class="tn" x="4670" y="1352">100 mm LAM/ANB , Fertigisolierung</text>
<text class="tb" x="4564" y="1380">ISOLIERSTÄRKEN für <tspan fill="#44bb22">KALTWASSERLEITUNGEN</tspan></text>
<text class="tb" x="4564" y="1400">ARMATURENKAPPEN mit KAUTSCHUK-ELASTOMER</text>
<text class="tt" x="4670" y="1418">Mindestdämmdicken d [mm]</text><text class="tb" x="4670" y="1438">DN / OD</text>
<text class="tb" x="4409" y="1463">LAGE der LEITUNGEN</text>
<text class="tt" x="4529" y="1463">≤15</text><text class="tt" x="4558" y="1463">20</text><text class="tt" x="4586" y="1463">25</text><text class="tt" x="4614" y="1463">32</text><text class="tt" x="4642" y="1463">40</text><text class="tt" x="4670" y="1463">50</text><text class="tt" x="4698" y="1463">65</text><text class="tt" x="4726" y="1463">80</text><text class="tt" x="4755" y="1463">100</text><text class="tt" x="4783" y="1463">125</text><text class="tt" x="4811" y="1463">&gt;125</text>
<text class="tt" x="4409" y="1487">Technikraum, <tspan fill="#e05050">BEHEIZTER</tspan> Raum</text><text class="tt" x="4409" y="1499">Installationsschacht,-gang mit</text><text class="tt" x="4409" y="1511">warmgehenden Rohrleitungen, Leichtbau,</text><text class="tt" x="4409" y="1523">Zwischendecke, Doppelboden, UP,</text><text class="tt" x="4409" y="1535">Fußboden Vorwandinstallation Fußboden</text><text class="tt" x="4409" y="1547">neben warmgehenden Rohrleitungen</text>
<text class="tt" x="4543" y="1513">13</text><text class="tt" x="4543" y="1524">Elastomer</text><text class="tt" x="4586" y="1513">19</text><text class="tt" x="4628" y="1513">25</text><text class="tt" x="4628" y="1524">Elastomer</text><text class="tt" x="4740" y="1513">32</text><text class="tt" x="4740" y="1524">Elastomer</text>
<text class="tt" x="4409" y="1570"><tspan fill="#4a90e2">UNBEHEIZTER</tspan> Raum</text><text class="tt" x="4409" y="1582">Installationsschacht,-gang ohne</text><text class="tt" x="4409" y="1594">warmgehende Rohrleitungen</text>
<text class="tt" x="4543" y="1577">9</text><text class="tt" x="4600" y="1577">13</text><text class="tt" x="4656" y="1577">19</text><text class="tt" x="4712" y="1577">25</text><text class="tt" x="4783" y="1577">32</text>
<text class="tt" x="4409" y="1616">Standerwände</text><text class="tt" x="4409" y="1628">Vorsatzschalen</text><text class="tv" x="4543" y="1616">4</text><text class="tv" x="4543" y="1628">vorisoliert</text><text class="tv" x="4698" y="1616">9</text><text class="tv" x="4698" y="1628">vorisoliert</text>
<text class="tt" x="4409" y="1658">Unterputz</text><text class="tt" x="4409" y="1670">Fußboden, Estrich</text><text class="tv" x="4543" y="1658">4</text><text class="tv" x="4543" y="1670">vorisoliert</text><text class="tv" x="4698" y="1658">9</text><text class="tv" x="4698" y="1670">vorisoliert</text>
<text class="tt" x="4409" y="1700">Außerhalb des Gebäudes</text><text class="tt" x="4409" y="1712">Ausführung wetterfest (Alu-Mantel)</text><text class="tt" x="4586" y="1710">19</text><text class="tt" x="4670" y="1710">19</text><text class="tt" x="4769" y="1710">19</text>
<text class="tb" x="4409" y="1739">im Erdreich</text><text class="tn" x="4670" y="1739">in frostsicherer Tiefe keine Wärmedämmung erforderlich</text>
<text class="tb" x="4564" y="1757">Rohrleitungen über der Frostgrenze sind gegen Einfrieren durch geeignete Maßnahmen zu schützen</text>
<text class="tb" x="4564" y="1779">ISOLIERSTÄRKEN für <tspan fill="#f0a050">REGEN- &amp; SCHMUTZWASSERLEITUNGEN</tspan></text>
<text class="tt" x="4670" y="1798">Mindestdämmdicken d [mm]</text><text class="tb" x="4670" y="1816">DN / OD</text>
<text class="tb" x="4409" y="1841">LAGE der LEITUNGEN</text>
<text class="tt" x="4529" y="1841">≤15</text><text class="tt" x="4558" y="1841">20</text><text class="tt" x="4586" y="1841">25</text><text class="tt" x="4614" y="1841">32</text><text class="tt" x="4642" y="1841">40</text><text class="tt" x="4670" y="1841">50</text><text class="tt" x="4698" y="1841">65</text><text class="tt" x="4726" y="1841">80</text><text class="tt" x="4755" y="1841">100</text><text class="tt" x="4783" y="1841">125</text><text class="tt" x="4811" y="1841">&gt;125</text>
<text class="tt" x="4409" y="1864">Unterputz</text><text class="tt" x="4409" y="1876">Fußboden, Estrich</text><text class="tb" x="4670" y="1864" style="fill:#e00">4 mm</text><text class="tb" x="4670" y="1876" style="fill:#e00">UP-Schlauch</text>
<text class="tt" x="4409" y="1894">Technikraum, Schächte</text><text class="tt" x="4409" y="1906">Zwischendecken</text><text class="tt" x="4670" y="1894">! Nur Regenwasser !</text><text class="tt" x="4670" y="1906">13 Elastomer</text>
<text class="tt" x="4409" y="1924">Standerwände</text><text class="tt" x="4409" y="1936">Vorsatzschalen</text><text class="tt" x="4670" y="1924">! Nur Regenwasser !</text><text class="tt" x="4670" y="1936">13 Elastomer</text>
<text class="tb" x="4564" y="1958">ISOLIERSTÄRKEN für <tspan fill="#4a90e2">KÄLTELEITUNGEN</tspan></text>
<text class="tb" x="4564" y="1977">sowie ARMATUREN mit KAUTSCHUK-ELSATOMER</text>
<text class="tt" x="4670" y="1994">Mindestdämmdicken d [mm]</text><text class="tb" x="4670" y="2013">DN / OD</text>
<text class="tb" x="4409" y="2038">LAGE der LEITUNGEN</text>
<text class="tt" x="4529" y="2038">≤15</text><text class="tt" x="4558" y="2038">20</text><text class="tt" x="4586" y="2038">25</text><text class="tt" x="4614" y="2038">32</text><text class="tt" x="4642" y="2038">40</text><text class="tt" x="4670" y="2038">50</text><text class="tt" x="4698" y="2038">65</text><text class="tt" x="4726" y="2038">80</text><text class="tt" x="4755" y="2038">100</text><text class="tt" x="4783" y="2038">125</text><text class="tt" x="4811" y="2038">&gt;125</text>
<text class="tb" x="4409" y="2062">Innerhalb des Gebäudes</text><text class="tb" x="4529" y="2062">13</text><text class="tb" x="4586" y="2062">19</text><text class="tb" x="4670" y="2062">25</text><text class="tb" x="4769" y="2062">32</text>
<text class="tb" x="4409" y="2079">Außerhalb des Gebäudes</text><text class="tb" x="4529" y="2079">19</text><text class="tb" x="4586" y="2079">25</text><text class="tb" x="4726" y="2079">32</text>
<text class="tb" x="4564" y="2099">ISOLIERSTÄRKEN für <tspan fill="#ff8c1a">LÜFTUNGSLEITUNGEN</tspan></text>
<text class="tt" x="4670" y="2117">Mindestdämmdicken d [mm]</text><text class="tb" x="4670" y="2136">DN / OD</text>
<text class="tb" x="4409" y="2162">LAGE der LEITUNGEN</text>
<text class="tt" x="4543" y="2157">U≤ 0,5m</text><text class="tt" x="4600" y="2157">U≤ 1m</text><text class="tt" x="4656" y="2157">U≤ 3m</text><text class="tt" x="4712" y="2157">U≤ 5m</text><text class="tt" x="4769" y="2157">U≤ 10m</text><text class="tt" x="4811" y="2157">U&lt;</text>
<text class="tb" x="4409" y="2190">ZULUFT <tspan fill="#e05050">BEHEIZTER</tspan> Raum</text><text class="tt" x="4409" y="2202">Installationsgang-Schacht grenzt</text><text class="tt" x="4409" y="2214">überwiegend an beheizte Bereiche,</text><text class="tt" x="4409" y="2226">Doppelboden</text>
<text class="tn" x="4543" y="2206">20</text><text class="tn" x="4600" y="2206">20</text><text class="tn" x="4656" y="2206">30</text><text class="tn" x="4712" y="2206">40</text><text class="tn" x="4769" y="2206">50</text><text class="tn" x="4811" y="2206">60</text>
<text class="tb" x="4409" y="2243">ZULUFT Technikraum <tspan fill="#4a90e2">UNBEHEIZTER</tspan> Raum</text><text class="tt" x="4409" y="2255">Installationsschacht,-gang grenzt</text><text class="tt" x="4409" y="2267">überwiegend an unbeheizte Räume</text>
<text class="tn" x="4543" y="2255">30</text><text class="tn" x="4600" y="2255">40</text><text class="tn" x="4656" y="2255">50</text><text class="tn" x="4712" y="2255">60</text><text class="tn" x="4769" y="2255">80</text><text class="tn" x="4811" y="2255">100</text>
<text class="tb" x="4409" y="2286">ABLUFT Technikraum <tspan fill="#4a90e2">UNBEHEIZTER</tspan> Raum</text><text class="tt" x="4409" y="2298">Installationsschacht,-gang grenzt</text><text class="tt" x="4409" y="2310">überwiegend an unbeheizte Räume</text>
<text class="tn" x="4543" y="2298">30</text><text class="tn" x="4600" y="2298">40</text><text class="tn" x="4656" y="2298">50</text><text class="tn" x="4712" y="2298">60</text><text class="tn" x="4769" y="2298">80</text><text class="tn" x="4811" y="2298">100</text>
<text class="tb" x="4409" y="2335">AUßENLUFT / FORTLUFT</text><text class="tt" x="4409" y="2347">innerhalb d. Gebäudes</text>
<text class="tt" x="4543" y="2335">13</text><text class="tt" x="4543" y="2346">Elastomer</text><text class="tt" x="4600" y="2335">19</text><text class="tt" x="4600" y="2346">Elastomer</text><text class="tt" x="4656" y="2335">25</text><text class="tt" x="4656" y="2346">Elastomer</text><text class="tt" x="4712" y="2335">32</text><text class="tt" x="4712" y="2346">Elastomer</text><text class="tt" x="4769" y="2335">32</text><text class="tt" x="4769" y="2346">Elastomer</text><text class="tt" x="4811" y="2335">32</text>
</g>

<text x="4929" y="1072" font-size="20" fill="#111">Legende</text>
<text x="5137" y="1072" font-size="20" fill="#111">Abkürzungen</text>
<g stroke-width="2" fill="none">
<path d="M4855 1087 H4918" stroke="#66e066" stroke-dasharray="8 4"/>
<path d="M4855 1101 H4918" stroke="#66e066" stroke-dasharray="10 3 2 3"/>
<path d="M4855 1116 H4918" stroke="#66e066"/>
<path d="M4855 1130 H4918" stroke="#c8e000" stroke-dasharray="8 4"/>
<path d="M4855 1145 H4918" stroke="#c8e000" stroke-dasharray="10 3 2 3"/>
<path d="M4855 1159 H4918" stroke="#e8e890"/>
<path d="M4855 1174 H4918" stroke="#f5a040" stroke-dasharray="8 4"/>
<path d="M4855 1188 H4918" stroke="#f5a040" stroke-dasharray="10 3 2 3"/>
<path d="M4855 1203 H4918" stroke="#f5a040"/>
<path d="M4855 1217 H4918" stroke="#9020f0" stroke-dasharray="8 4"/>
<path d="M4855 1232 H4918" stroke="#9020f0" stroke-dasharray="10 3 2 3"/>
<path d="M4855 1246 H4918" stroke="#9020f0"/>
<path d="M4855 1261 H4918" stroke="#b03010" stroke-dasharray="12 5"/>
<path d="M4855 1275 H4918" stroke="#b03010" stroke-dasharray="12 3 2 3"/>
<path d="M4855 1290 H4918" stroke="#b03010"/>
<path d="M4855 1304 H4918" stroke="#e0a050" stroke-dasharray="10 3 2 3"/>
<path d="M4855 1319 H4918" stroke="#e0d000"/>
<path d="M4855 1333 H4918" stroke="#3080d0"/>
<path d="M4855 1348 H4918" stroke="#f03030" stroke-dasharray="12 6"/>
<path d="M4855 1362 H4918" stroke="#f03030" stroke-dasharray="12 6"/>
<path d="M4855 1377 H4918" stroke="#f03030" stroke-dasharray="12 3 2 3"/>
<path d="M4855 1391 H4918" stroke="#f03030"/>
<path d="M4855 1406 H4918" stroke="#2040e0" stroke-dasharray="12 6"/>
<path d="M4855 1420 H4918" stroke="#2040e0" stroke-dasharray="12 3 2 3"/>
<path d="M4855 1435 H4918" stroke="#2040e0"/>
<path d="M4855 1449 H4918" stroke="#80ff80" stroke-dasharray="12 6"/>
<path d="M4855 1464 H4918" stroke="#80ff80" stroke-dasharray="12 3 2 3"/>
<path d="M4855 1478 H4918" stroke="#80ff80"/>
<path d="M4855 1493 H4918" stroke="#ff40ff" stroke-dasharray="12 6"/>
<path d="M4855 1507 H4918" stroke="#ff40ff" stroke-dasharray="12 3 2 3"/>
<path d="M4855 1522 H4918" stroke="#ff40ff"/>
<path d="M4855 1536 H4918" stroke="#1ab01a" stroke-width="6"/>
<path d="M4855 1551 H4918" stroke="#d03010" stroke-width="6"/>
<path d="M4855 1565 H4918" stroke="#a000ff" stroke-width="6"/>
<path d="M4855 1580 H4918" stroke="#e0d000" stroke-width="6"/>
<path d="M4855 1594 H4918" stroke="#60b0ff" stroke-width="6"/>
<path d="M4855 1609 H4918" stroke="#e0103a" stroke-width="6"/>
</g>
<g class="lg">
<text x="4931" y="1092">Kaltwasser im Boden</text><text x="4931" y="1106">Kaltwasser an Decke</text><text x="4931" y="1121">Kaltwasser allgemein</text><text x="4931" y="1135">Kaltwasser enth. im Boden</text><text x="4931" y="1150">Kaltwasser enth. an Decke</text><text x="4931" y="1164">Kaltwasser enth. allgemein</text><text x="4931" y="1179">Warmwasser im Boden</text><text x="4931" y="1193">Warmwasser an Decke</text><text x="4931" y="1208">Warmwasser allgemein</text><text x="4931" y="1222">WW-Zirkulation im Boden</text><text x="4931" y="1237">WW-Zirkulation an Decke</text><text x="4931" y="1251">WW-Zirkulation allgemein</text><text x="4931" y="1266">Schmutzwasser im Boden</text><text x="4931" y="1280">Schmutzwasser an Decke</text><text x="4931" y="1295">Schmutzwasser allgemein</text><text x="4931" y="1309">Fett-Schmutzwasser</text><text x="4931" y="1324">Strangentlüftung</text><text x="4931" y="1338">Regenwasser</text><text x="4931" y="1353">Löschleitung  (nass/trocken)</text><text x="4931" y="1367">Heizung Vorlauf im Boden</text><text x="4931" y="1382">Heizung Vorlauf an Decke</text><text x="4931" y="1396">Heizung Vorlauf allgemein</text><text x="4931" y="1411">Heizung Rücklauf im Boden</text><text x="4931" y="1425">Heizung Rücklauf an Decke</text><text x="4931" y="1440">Heizung Rücklauf allgemein</text><text x="4931" y="1454">Kälte Vorlauf im Boden</text><text x="4931" y="1469">Kälte Vorlauf an Decke</text><text x="4931" y="1483">Kälte Vorlauf allgemein</text><text x="4931" y="1498">Kälte Rücklauf im Boden</text><text x="4931" y="1512">Kälte Rücklauf an Decke</text><text x="4931" y="1527">Kälte Rücklauf allgemein</text><text x="4931" y="1541">Außenluft (19 mm Kautschuk)</text><text x="4931" y="1556">Fortluft (19 mm Kautschuk)</text><text x="4931" y="1570">Zuluft (30 mm Mineralwolle)</text><text x="4931" y="1585">Abluft (30 mm Mineralwolle)</text><text x="4931" y="1599">Lüftungskomponenten allg.</text><text x="4931" y="1614">Brandschutzklappen</text>
<text x="5137" y="1092">PWC</text><text x="5197" y="1092">Kaltwasser</text>
<text x="5137" y="1106">PWH</text><text x="5197" y="1106">Warmwasser</text>
<text x="5137" y="1121">PWH-C</text><text x="5197" y="1121">PWW-Zirkulation</text>
<text x="5137" y="1135">SW</text><text x="5197" y="1135">Schmutzwasser</text>
<text x="5137" y="1150">RW</text><text x="5197" y="1150">Regenwasser</text>
<text x="5137" y="1179">VL</text><text x="5197" y="1179">Vorlauf (Heizung)</text>
<text x="5137" y="1193">RL</text><text x="5197" y="1193">Rücklauf (Heizung)</text>
<text x="5137" y="1208">K-VL</text><text x="5197" y="1208">Kälte-Vorlauf</text>
<text x="5137" y="1222">K-RL</text><text x="5197" y="1222">Kälte-Rücklauf</text>
<text x="5136" y="1334" font-size="20">Bauangaben</text>
<text x="5137" y="1353">DDB</text><text x="5197" y="1353">Deckendurchbruch</text>
<text x="5137" y="1367">FBDB</text><text x="5197" y="1367">Fußbodendurchbruch</text>
<text x="5137" y="1382">WDB</text><text x="5197" y="1382">Wanddurchbruch</text>
<text x="5137" y="1396">UZDB</text><text x="5197" y="1396">Unterzugdurchbruch</text>
<text x="5137" y="1411">RFBOK</text><text x="5197" y="1411">Rohfußboden-Oberkante</text>
<text x="5137" y="1425">FFBOK</text><text x="5197" y="1425">Fertigfußboden-Oberkante</text>
<text x="5137" y="1440">RDUK</text><text x="5197" y="1440">Rohdecken-Unterkante</text>
<text x="5137" y="1454">OK</text><text x="5197" y="1454">Oberkante</text>
<text x="5137" y="1469">UK</text><text x="5197" y="1469">Unterkante</text>
<text x="5137" y="1483">KB</text><text x="5197" y="1483">Kernbohrung</text>
</g>

<g stroke="#222" fill="none">
<path d="M4847 2591 V1763 H5372" stroke-width="2"/>
<rect x="4861" y="1777" width="496" height="424" stroke-width="2"/>
<path d="M4861 1862 H5357 M4861 1864 H5357 M4861 1905 H5357" stroke-width="2"/>
<path d="M4861 2158 H5357 M4861 2173 H5357 M4861 2187 H5357 M4904 2158 V2201 M4966 2158 V2201 M5003 2158 V2201" stroke-width="1.5"/>
<rect x="4861" y="2215" width="496" height="128" stroke-width="2"/><path d="M5109 2215 V2343" stroke-width="2"/>
<rect x="4861" y="2357" width="496" height="71" stroke-width="2"/><path d="M5109 2357 V2428 M4861 2381 H5109 M4861 2404 H5109" stroke-width="1.5"/>
<rect x="4861" y="2435" width="496" height="71" stroke-width="2"/><path d="M5109 2435 V2506 M5233 2435 V2506 M4861 2459 H5233 M4861 2482 H5233 M5233 2470 H5357" stroke-width="1.5"/>
<rect x="4861" y="2513" width="496" height="28" stroke-width="2"/><path d="M4985 2513 V2541 M5109 2513 V2541 M5214 2513 V2541 M5296 2513 V2541" stroke-width="1.5"/>
<rect x="4861" y="2548" width="496" height="29" stroke-width="2"/>
</g>
<text class="sm" x="4865" y="1790">Bauvorhaben</text>
<text x="4887" y="1817" font-size="26" fill="#111">WHA-BG47</text>
<text x="4887" y="1846" font-size="21" fill="#111">Bründlgraben 47, 3500 Krems</text>
<text x="4935" y="1895" font-size="31" font-weight="900" fill="#d8101c" textLength="377" lengthAdjust="spacingAndGlyphs">Montageplan</text>
<text class="sm" x="4865" y="1918">Lageplan</text>
<g fill="none" stroke="#333" stroke-width="1">
<polygon points="4943,1999 4945,1982 4954,1981 4955,1978 4971,1979 4973,1963 5037,1971 5036,1988 5067,1992 5064,2003 5054,2003 5052,2013"/>
<polygon points="5137,1992 5141,1977 5156,1976 5157,1957 5170,1957 5170,1942 5214,1942 5214,1957 5240,1957 5240,1962 5245,1962 5245,1978 5211,1979 5210,1990 5203,1992"/>
<polygon points="4914,2041 4992,2018 4997,2031 5038,2018 5043,2038 5007,2049 4998,2052 4928,2075"/>
<polygon points="5080,2016 5138,2016 5138,2012 5196,2011 5196,2037 5092,2037 5092,2043 5080,2043"/>
</g>
<rect x="5068" y="1996" width="138" height="62" fill="none" stroke="#f00" stroke-width="5"/>
<g font-size="13" fill="#111" text-anchor="middle"><text x="4998" y="1992">BK3</text><text x="5184" y="1982">BK4</text><text x="4978" y="2049">BK1</text><text x="5140" y="2032">BK2</text></g>
<g font-size="7" fill="#222">
<text x="4880" y="2169">B</text><text x="4916" y="2169">18.04.2023</text><text x="4975" y="2169">Majer</text><text x="5009" y="2169">bei WST die FBH-Kreise eingetragen, VT-Nischen beschriftet, aktuelle LÜ-Pläne eingespielt</text>
<text x="4880" y="2183">A</text><text x="4916" y="2183">14.03.2023</text><text x="4975" y="2183">Majer</text><text x="5009" y="2183">Montageplan erstellt</text>
<text x="4875" y="2197">Index</text><text x="4921" y="2197">Datum</text><text x="4975" y="2197">Name</text><text x="5009" y="2197">Änderung</text>
<text x="4865" y="2228">Auftragnehmer:</text><text x="5113" y="2228">Auftraggeber:</text>
<text x="4865" y="2369">Planart:</text><text x="4865" y="2392">Planinhalt:</text><text x="4865" y="2414">Gewerk:</text>
<text x="5113" y="2366">Planungsgrundlage Architektur:</text><text x="5118" y="2412">Referenzen:</text><text x="5176" y="2411">XP__</text><text x="5176" y="2420">XP__</text>
<text x="4865" y="2444">Geschoss:</text><text x="4865" y="2468">Bauteil:</text><text x="4865" y="2491">Teil</text>
<text x="5113" y="2444">Techniker:</text><text x="5113" y="2468">Gezeichnet:</text><text x="5113" y="2491">Geprüft:</text>
<text x="5237" y="2444">Plannummer lt. externer Plattform</text><text x="5237" y="2454">xxx</text><text x="5237" y="2479">Index Polierpl.</text>
<text x="4865" y="2522">Maßstab:</text><text x="4989" y="2522">Erstellt:</text><text x="5113" y="2522">Index H+S</text><text x="5218" y="2522">Index Datum:</text><text x="5300" y="2522">Format:</text>
<text x="4865" y="2557">Plannummer:</text>
</g>
<path d="M4876 2237 H4892 V2260 Q4900 2266 4908 2260 V2237 H4924 V2284 H4908 Q4898 2270 4892 2284 H4876 Z" fill="#1d3e8a"/>
<path d="M4876 2262 Q4884 2268 4892 2262 V2284 H4876 Z M4908 2237 H4924 V2262 Q4916 2256 4908 2262 Z" fill="#d8101c"/>
<text x="4929" y="2256" font-size="22" font-weight="bold" fill="#d8101c">hopferwieser</text>
<text x="4926" y="2274" font-size="19" font-weight="bold" fill="#1d3e8a">+steinmayr</text>
<text x="4929" y="2284" font-size="8" font-weight="bold" fill="#1d3e8a">Installations GmbH</text>
<text x="4878" y="2299" font-size="11" fill="#111">HEIZUNG KLIMA  LÜFTUNG SANITÄR</text>
<text x="4882" y="2313" font-size="11" fill="#111">A-3300 Amstetten, A. Krupp Straße 12</text>
<text x="4878" y="2322" font-size="4" fill="#111">Tel.: +43 7472/ 62071-0  http://www.hs-installation.at E-Mail: office@howi.at</text>
<text x="5126" y="2255" font-size="21" fill="#111">Danube Hills Krems GmbH</text>
<text x="5126" y="2271" font-size="11" fill="#111">Lehrbachgasse 2</text><text x="5126" y="2288" font-size="11" fill="#111">1120 Wien</text>
<text x="4917" y="2377" font-size="20" fill="#111">Montageplan</text>
<text x="4917" y="2400" font-size="20" fill="#111">Grundriss</text>
<text x="4917" y="2424" font-size="20" fill="#111">HLS</text>
<text x="5118" y="2383" font-size="11" fill="#111">Mag. Arch. Thomas Tauber</text><text x="5118" y="2399" font-size="11" fill="#111">Utzstraße 11, 3500 Krems</text>
<text x="4917" y="2455" font-size="20" fill="#111">Ebene 2</text>
<text x="4917" y="2479" font-size="20" fill="#111">BK2</text>
<text x="4917" y="2500" font-size="14" fill="#111">...</text>
<text x="5158" y="2455" font-size="11" fill="#111">LeoH</text><text x="5158" y="2479" font-size="11" fill="#111">Majer</text><text x="5158" y="2502" font-size="11" fill="#111">LeoH</text>
<text x="5238" y="2500" font-size="13" fill="#111">23-02-24</text>
<text x="4908" y="2535" font-size="11" fill="#111">1:50</text><text x="5020" y="2535" font-size="11" fill="#111">04.07.2022</text><text x="5160" y="2535" font-size="11" fill="#111">B</text><text x="5218" y="2535" font-size="11" fill="#111">08.05.2023</text><text x="5303" y="2535" font-size="11" fill="#111">1895x589</text>
<text x="4930" y="2570" font-size="11" fill="#111">P210017_BG47_E02_BK2_HLS_M_50_B</text>
<text x="5357" y="2586" font-size="7" fill="#222" text-anchor="end">Farbe: Plotstil-hs-2017.ctb</text>
<text x="5368" y="2580" font-size="6" fill="#222" transform="rotate(-90 5368 2580)">Plot: P:\WHA_Bründlgraben_P210017\1 CAD Planung\P210017_WHA_BG47_HKLS_E2.dwg, Freitag, 12. Mai 2023 11:52:35</text>
</svg>
</body></html>
